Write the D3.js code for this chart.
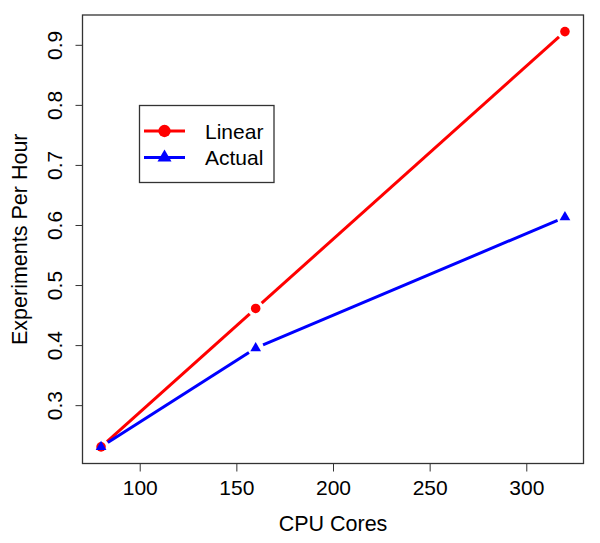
<!DOCTYPE html>
<html>
<head>
<meta charset="utf-8">
<script src="https://cdn.jsdelivr.net/npm/d3@7"></script>
<style>
  body { margin: 0; background: #fff; }
  text { font-family: "Liberation Sans", Arial, Helvetica, sans-serif; fill: #000; }
</style>
</head>
<body>
<svg id="chart"></svg>
<script>
const cores = [80, 160, 320];
const linear = [0.2305, 0.461, 0.922];
const actual = [0.2305, 0.395, 0.613];
const xTicks = [100, 150, 200, 250, 300];
const yTicks = [0.3, 0.4, 0.5, 0.6, 0.7, 0.8, 0.9];
const seriesNames = ["Linear", "Actual"];
const seriesColors = ["#ff0000", "#0000ff"];

const width = 600, height = 543;
const plot = { left: 82.5, right: 583.5, top: 15, bottom: 463.5 };

const svg = d3.select("#chart").attr("width", width).attr("height", height);

// R style 4% padding on both ends
function padded(vals) {
    const lo = d3.min(vals), hi = d3.max(vals), d = (hi - lo) * 0.04;
    return [lo - d, hi + d];
}

const x = d3.scaleLinear().domain(padded(cores)).range([plot.left, plot.right]);
const y = d3.scaleLinear().domain(padded(linear.concat(actual))).range([plot.bottom, plot.top]);

const xAxis = svg.append("g")
    .attr("transform", `translate(0, ${plot.bottom})`)
    .call(d3.axisBottom(x).tickValues(xTicks).tickSize(8).tickPadding(9).tickFormat(d3.format("d")));
xAxis.select(".domain").remove();
xAxis.selectAll("line").attr("stroke", "#333");
xAxis.selectAll("text").style("font-size", "21px").attr("fill", "#000");

const yAxis = svg.append("g")
    .attr("transform", `translate(${plot.left}, 0)`)
    .call(d3.axisLeft(y).tickValues(yTicks).tickSize(7).tickFormat(d3.format(".1f")));
yAxis.select(".domain").remove();
yAxis.selectAll("line").attr("stroke", "#333");
yAxis.selectAll("text")
    .style("font-size", "21px")
    .attr("fill", "#000")
    .attr("x", null).attr("dy", null)
    .attr("text-anchor", "middle")
    .attr("transform", "translate(-20.5, 0) rotate(-90)");

svg.append("rect")
    .attr("x", plot.left).attr("y", plot.top)
    .attr("width", plot.right - plot.left).attr("height", plot.bottom - plot.top)
    .attr("fill", "none").attr("stroke", "#333").attr("stroke-width", 1.3);

svg.append("text")
    .attr("x", (plot.left + plot.right) / 2).attr("y", 531)
    .attr("text-anchor", "middle").style("font-size", "21.5px")
    .text("CPU Cores");

svg.append("text")
    .attr("transform", `translate(27, ${(plot.top + plot.bottom) / 2}) rotate(-90)`)
    .attr("text-anchor", "middle").style("font-size", "21.5px")
    .text("Experiments Per Hour");

// type = "b": segments with gaps around the points
const gap = 8;
function drawSeries(vals, color, symbol, size) {
    const pts = cores.map((c, i) => [x(c), y(vals[i])]);
    const segs = d3.pairs(pts).map(([a, b]) => {
        const dx = b[0] - a[0], dy = b[1] - a[1], len = Math.hypot(dx, dy);
        const ux = dx / len, uy = dy / len;
        return [a[0] + ux * gap, a[1] + uy * gap, b[0] - ux * gap, b[1] - uy * gap];
    });
    svg.append("g").selectAll("line").data(segs).join("line")
        .attr("x1", d => d[0]).attr("y1", d => d[1])
        .attr("x2", d => d[2]).attr("y2", d => d[3])
        .attr("stroke", color).attr("stroke-width", 3);
    svg.append("g").selectAll("path").data(pts).join("path")
        .attr("transform", d => `translate(${d[0]}, ${d[1]})`)
        .attr("d", d3.symbol().type(symbol).size(size))
        .attr("fill", color);
}

drawSeries(linear, seriesColors[0], d3.symbolCircle, 72);
drawSeries(actual, seriesColors[1], d3.symbolTriangle, 50);

// legend
const legend = svg.append("g");
legend.append("rect")
    .attr("x", 139.5).attr("y", 105.5).attr("width", 134.5).attr("height", 77)
    .attr("fill", "#fff").attr("stroke", "#333").attr("stroke-width", 1.3);
const rows = seriesNames.map((n, i) => ({ name: n, color: seriesColors[i], y: 131 + i * 26.5,
    symbol: i === 0 ? d3.symbolCircle : d3.symbolTriangle, size: i === 0 ? 120 : 85 }));
legend.selectAll("line.key").data(rows).join("line")
    .attr("x1", 144).attr("x2", 185)
    .attr("y1", d => d.y).attr("y2", d => d.y)
    .attr("stroke", d => d.color).attr("stroke-width", 3);
legend.selectAll("path").data(rows).join("path")
    .attr("transform", d => `translate(164.5, ${d.y})`)
    .attr("d", d => d3.symbol().type(d.symbol).size(d.size)())
    .attr("fill", d => d.color);
legend.selectAll("text").data(rows).join("text")
    .attr("x", 205).attr("y", d => d.y + 7.5)
    .style("font-size", "21px")
    .text(d => d.name);
</script>
</body>
</html>
